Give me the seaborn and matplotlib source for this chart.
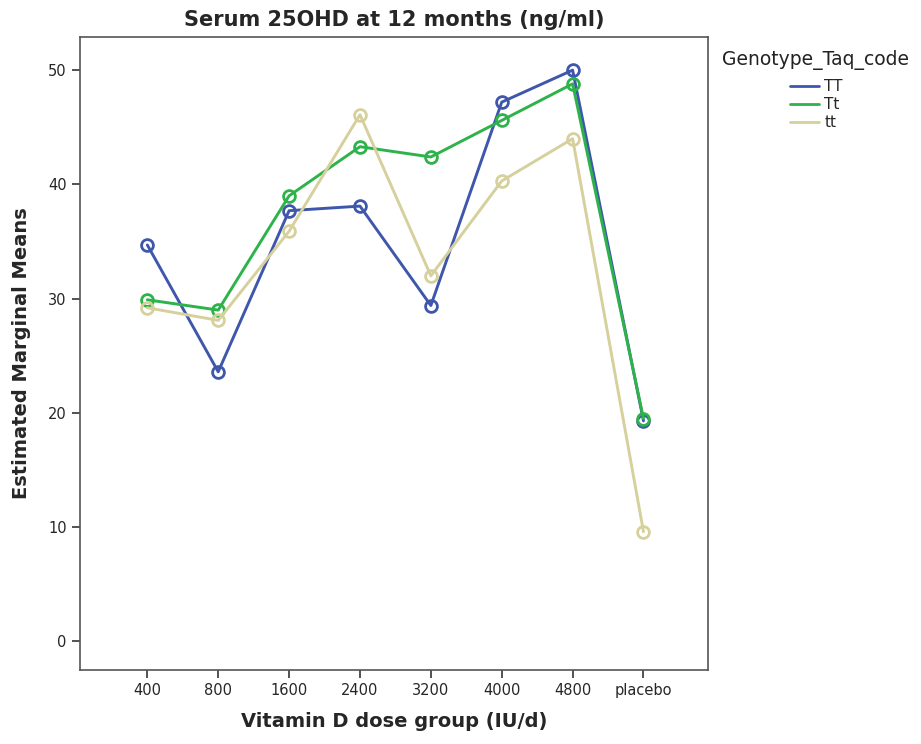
import matplotlib
matplotlib.use("Agg")
import matplotlib.pyplot as plt
from matplotlib.lines import Line2D
import pandas as pd
import seaborn as sns

doses = ["400", "800", "1600", "2400", "3200", "4000", "4800", "placebo"]
genotypes = ["TT", "Tt", "tt"]
tt_upper = [34.7, 23.6, 37.7, 38.1, 29.4, 47.2, 50.0, 19.3]
tt_mixed = [29.9, 29.0, 39.0, 43.3, 42.4, 45.6, 48.8, 19.5]
tt_lower = [29.2, 28.1, 35.9, 46.1, 32.0, 40.3, 44.0, 9.6]
colors = {"TT": "#3f57ab", "Tt": "#2db34a", "tt": "#d6d09c"}


def build_frame() -> pd.DataFrame:
    rows = []
    for geno, vals in zip(genotypes, [tt_upper, tt_mixed, tt_lower]):
        for d, v in zip(doses, vals):
            rows.append({"dose": d, "mean": v, "Genotype_Taq_code": geno})
    return pd.DataFrame(rows)


def main() -> None:
    df = build_frame()
    sns.set_theme(style="white")
    plt.rcParams["font.family"] = ["DejaVu Sans"]

    fig = plt.figure(figsize=(9.21, 7.44), dpi=100)
    ax = fig.add_axes([80 / 921, 1 - 670 / 744, 628 / 921, 633 / 744])

    sns.lineplot(
        data=df, x="dose", y="mean", hue="Genotype_Taq_code",
        hue_order=genotypes, palette=colors, sort=False,
        marker="o", markerfacecolor="none", markeredgewidth=2.0,
        markersize=8.5, linewidth=2.1, legend=False, ax=ax,
    )
    # marker edges same colour as the lines
    for line in ax.get_lines():
        line.set_markeredgecolor(line.get_color())

    ax.set_xlim(-0.95, 7.91)
    ax.set_ylim(-2.5, 52.9)
    ax.set_yticks([0, 10, 20, 30, 40, 50])
    ax.tick_params(axis="both", direction="out", length=6, width=1.2,
                   color="#333333", labelsize=10.5, bottom=True, left=True)
    for sp in ax.spines.values():
        sp.set_color("#555555")
        sp.set_linewidth(1.2)

    ax.set_title("Serum 25OHD at 12 months (ng/ml)", fontsize=15,
                 fontweight="bold", pad=8)
    ax.set_xlabel("Vitamin D dose group (IU/d)", fontsize=14,
                  fontweight="bold", labelpad=10)
    ax.set_ylabel("Estimated Marginal Means", fontsize=14,
                  fontweight="bold", labelpad=12)

    fig.text(722 / 921, 1 - 60 / 744, "Genotype_Taq_code", fontsize=13.5,
             ha="left", va="center", color="#222222")
    handles = [Line2D([0], [0], color=colors[g], lw=2.0) for g in genotypes]
    fig.legend(handles, genotypes, loc="upper left",
               bbox_to_anchor=(790 / 921, 1 - 79 / 744), borderpad=0,
               borderaxespad=0, frameon=False, fontsize=11,
               handlelength=1.9, handletextpad=0.35, labelspacing=0.2)

    fig.savefig("out.png", dpi=100)
    plt.close(fig)


if __name__ == "__main__":
    main()
